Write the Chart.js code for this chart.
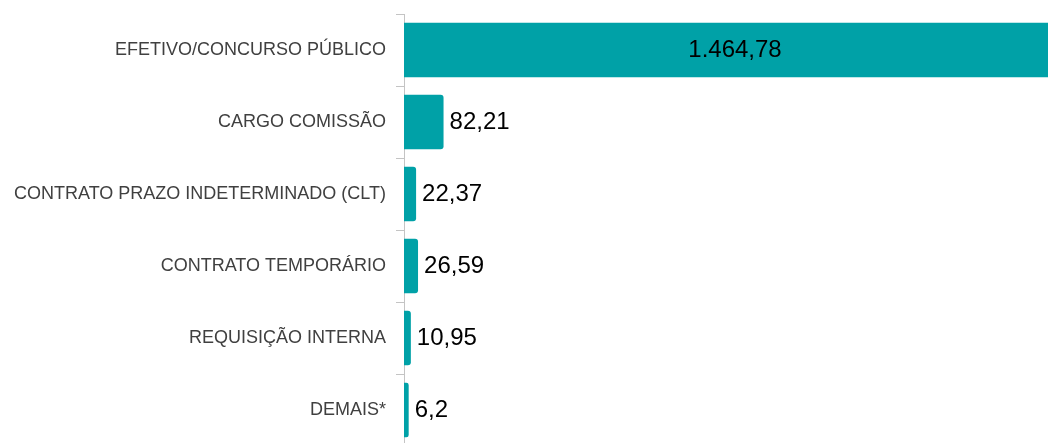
<!DOCTYPE html>
<html>
<head>
<meta charset="utf-8">
<script src="https://cdn.jsdelivr.net/npm/chart.js@4/dist/chart.umd.min.js"></script>
<style>
  html, body { margin: 0; padding: 0; background: #fff; overflow: hidden; }
  #wrap { width: 1048px; height: 446px; position: relative; }
</style>
</head>
<body>
<div id="wrap"><canvas id="vinculo_Chart"></canvas></div>
<script>
const categories = [
  "EFETIVO/CONCURSO PÚBLICO",
  "CARGO COMISSÃO",
  "CONTRATO PRAZO INDETERMINADO (CLT)",
  "CONTRATO TEMPORÁRIO",
  "REQUISIÇÃO INTERNA",
  "DEMAIS*",
];
const values = [1464.78, 82.21, 22.37, 26.59, 10.95, 6.2];
const valueLabels = ["1.464,78", "82,21", "22,37", "26,59", "10,95", "6,2"];
const X_MIN = -4;
const X_MAX = 1400;
const BAR_COLOR = "#00A1A7";

const valueLabelPlugin = {
  id: "valueLabels",
  afterDatasetsDraw(chart) {
    const ctx = chart.ctx;
    const area = chart.chartArea;
    const meta = chart.getDatasetMeta(0);
    ctx.save();
    ctx.font = '24px "Liberation Sans", Arial, sans-serif';
    ctx.fillStyle = "#000";
    ctx.textBaseline = "middle";
    meta.data.forEach((bar, i) => {
      const end = bar.x;
      if (end > area.right) {
        ctx.textAlign = "center";
        ctx.fillText(valueLabels[i], (bar.base + area.right) / 2 + 9, bar.y);
      } else {
        ctx.textAlign = "left";
        ctx.fillText(valueLabels[i], end + 6, bar.y);
      }
    });
    ctx.restore();
  },
};

function initChart() {
  const ctx = document.getElementById("vinculo_Chart").getContext("2d");
  new Chart(ctx, {
    type: "bar",
    data: {
      labels: categories,
      datasets: [
        {
          data: values,
          base: X_MIN,
          backgroundColor: BAR_COLOR,
          borderRadius: { topRight: 3, bottomRight: 3 },
          borderSkipped: "left",
          categoryPercentage: 1,
          barPercentage: 0.76,
        },
      ],
    },
    options: {
      indexAxis: "y",
      responsive: true,
      maintainAspectRatio: false,
      animation: false,
      layout: { padding: { top: 14, right: 0, bottom: 0, left: 0 } },
      plugins: {
        legend: { display: false },
        tooltip: { enabled: false },
      },
      scales: {
        x: {
          display: false,
          min: X_MIN,
          max: X_MAX,
        },
        y: {
          afterFit: (scale) => {
            scale.width = 404;
            scale.paddingTop = 0;
            scale.paddingBottom = 0;
          },
          border: { display: true, color: "#c4c4c4", width: 1 },
          grid: {
            offset: true,
            drawOnChartArea: false,
            drawTicks: true,
            tickLength: 8,
            color: "#c4c4c4",
          },
          ticks: {
            padding: 10,
            color: "#404040",
            font: { family: '"Liberation Sans", Arial, sans-serif', size: 18 },
          },
        },
      },
    },
    plugins: [valueLabelPlugin],
  });
}

window.onload = initChart;
</script>
</body>
</html>
